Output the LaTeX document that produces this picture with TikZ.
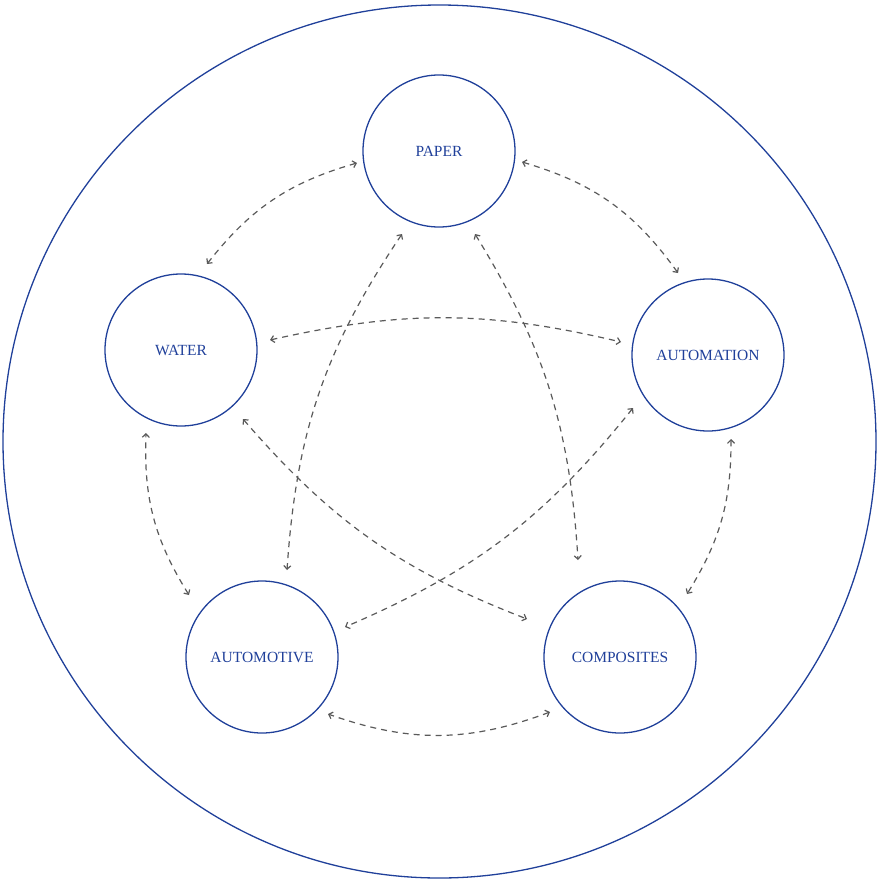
\documentclass[tikz,border=0pt]{standalone}
\usepackage{fontspec}
\setmainfont{Liberation Serif}
\usetikzlibrary{arrows.meta,calc}
\definecolor{ringblue}{HTML}{20409A}
\definecolor{dashgray}{HTML}{5A5A5A}
\begin{document}
\begin{tikzpicture}[x=1pt,y=-1pt,
  hub/.style={circle,draw=ringblue,line width=1.3pt,minimum size=152pt,inner sep=0pt,
    text=ringblue,font=\fontsize{15.5}{18}\selectfont},
  link/.style={draw=dashgray,line width=1.2pt,dash pattern=on 6pt off 5pt,
    {Straight Barb[length=3.5pt,width=7pt]}-{Straight Barb[length=3.5pt,width=7pt]}}]
\useasboundingbox (0,0) rectangle (879,884);
\node[circle,draw=ringblue,line width=1.3pt,minimum size=873pt,inner sep=0pt] (outer) at (439.5,441.5) {};
\node[hub] (p) at (439,151) {PAPER};
\node[hub] (w) at (181,350) {WATER};
\node[hub] (an) at (708,355) {AUTOMATION};
\node[hub] (am) at (262,657) {AUTOMOTIVE};
\node[hub] (c) at (620,657) {COMPOSITES};
% outer ring links
\draw[link] ($(p)+(-82,12)$) to[bend right=18] ($(w)+(26,-86)$);
\draw[link] ($(p)+(83,11)$) to[bend left=19] ($(an)+(-30,-82)$);
\draw[link] ($(an)+(23,84)$) to[bend left=16] ($(c)+(67,-63)$);
\draw[link] ($(c)+(-70,55)$) to[bend left=20] ($(am)+(66,57)$);
\draw[link] ($(am)+(-73,-62)$) to[bend left=17] ($(w)+(-35,83)$);
% inner star links
\draw[link] ($(w)+(89,-10)$) to[bend left=13] ($(an)+(-87,-13)$);
\draw[link] ($(an)+(-75,53)$) to[bend left=14] ($(am)+(83,-30)$);
\draw[link] ($(w)+(62,69)$) to[bend right=14] ($(c)+(-93,-38)$);
\draw[link] ($(p)+(-37,83)$) to[bend right=15] ($(am)+(25,-87)$);
\draw[link] ($(p)+(36,83)$) to[bend left=14] ($(c)+(-42,-97)$);
\end{tikzpicture}
\end{document}
